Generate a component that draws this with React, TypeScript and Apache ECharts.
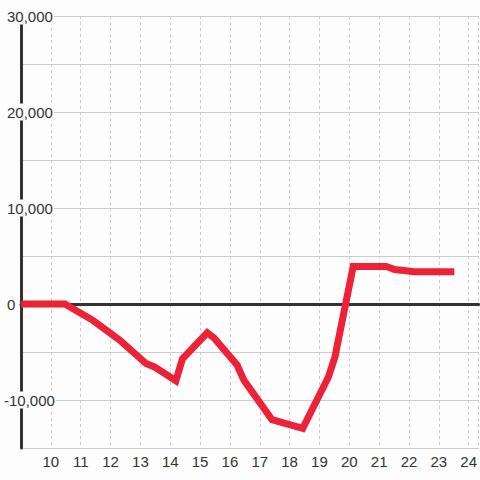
import React, { useEffect, useRef } from 'react';
import * as echarts from 'echarts';

// Hours of the day (x) and running value (y) of the red line
const hours = [9, 10.47, 11.41, 12.3, 13.19, 13.47, 14.19, 14.41, 15.24, 15.47, 16.24, 16.47, 17.41, 18.44, 19.3, 19.52, 20.13, 21.24, 21.52, 22.19, 23.52];
const values = [0, 0, -1700, -3750, -6200, -6550, -8000, -5700, -3000, -3550, -6350, -7950, -12050, -12950, -7600, -5500, 3900, 3900, 3600, 3370, 3370];

const xMin = 9;
const xMax = 24.333;
const yMin = -15000;
const yMax = 30000;
const labelledYTicks = [-10000, 0, 10000, 20000, 30000];

const BG = '#fcfdfc';
const FONT = '"Liberation Sans", Arial, sans-serif';

export default function App() {
  const ref = useRef<HTMLDivElement>(null);

  useEffect(() => {
    if (!ref.current) return;
    const chart = echarts.init(ref.current, undefined, { renderer: 'svg' });
    chart.setOption({
      animation: false,
      backgroundColor: BG,
      grid: { left: 20, right: 0, top: 16, bottom: 32 },
      xAxis: [
        {
          type: 'value',
          min: xMin,
          max: xMax,
          interval: 1,
          position: 'bottom',
          axisLine: { show: false },
          axisTick: { show: false },
          splitLine: { show: true, lineStyle: { color: '#cccccc', width: 1, type: [3, 3] } },
          axisLabel: {
            showMinLabel: false,
            showMaxLabel: false,
            margin: 6,
            color: '#333333',
            fontSize: 15,
            fontFamily: FONT,
            formatter: (v: number) => (Number.isInteger(v) ? String(v) : ''),
          },
        },
        {
          type: 'value',
          min: xMin,
          max: xMax,
          position: 'top',
          axisLine: { show: true, onZero: true, onZeroAxisIndex: 0, lineStyle: { color: '#333333', width: 3 } },
          axisTick: { show: false },
          axisLabel: { show: false },
          splitLine: { show: false },
        },
      ],
      yAxis: {
        type: 'value',
        min: yMin,
        max: yMax,
        interval: 5000,
        axisLine: { show: true, onZero: false, lineStyle: { color: '#333333', width: 3 } },
        axisTick: { show: false },
        splitLine: { show: true, lineStyle: { color: '#cccccc', width: 1 } },
        axisLabel: {
          margin: 18,
          align: 'left',
          formatter: (v: number) => {
            if (!labelledYTicks.includes(v)) return '';
            const t = v.toLocaleString('en-US');
            return v < 0 ? `{b|${t}}` : `{a|${t}}`;
          },
          rich: {
            a: { fontSize: 15, fontFamily: FONT, color: '#333333', backgroundColor: BG, padding: [1, 1, 1, 4] },
            b: { fontSize: 15, fontFamily: FONT, color: '#333333', backgroundColor: BG, padding: [1, 1, 1, 1] },
          },
        },
      },
      series: [
        {
          type: 'line',
          xAxisIndex: 0,
          data: hours.map((h, i) => [h, values[i]]),
          showSymbol: false,
          z: 5,
          lineStyle: { color: '#ed2137', width: 7, join: 'miter', cap: 'butt' },
        },
      ],
    });
    return () => chart.dispose();
  }, []);

  return (
    <div
      ref={ref}
      style={{ position: 'absolute', left: 0, top: 0, width: 480, height: 480, background: BG }}
    />
  );
}
